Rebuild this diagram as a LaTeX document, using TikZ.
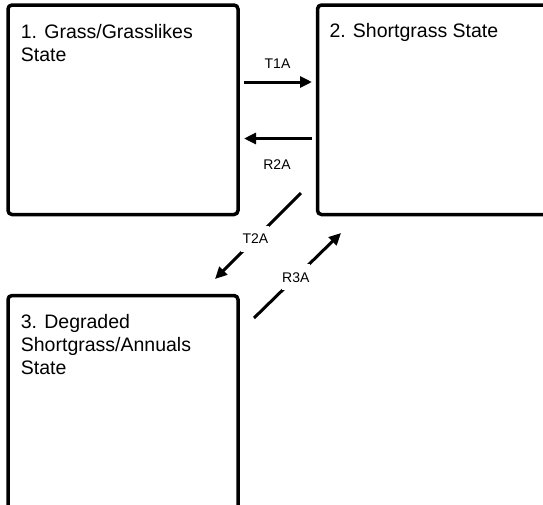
\documentclass[tikz,border=0pt]{standalone}
\usepackage{fontspec}
\setmainfont{Liberation Sans}
\usetikzlibrary{arrows.meta}
\tikzset{
  statebox/.style={draw=black, line width=3.5pt, rounded corners=4pt, fill=white, inner sep=0pt},
  statetext/.style={anchor=north west, inner sep=0pt, align=left, font=\fontsize{19.5}{23}\selectfont},
  arr/.style={line width=3pt, -{Triangle[length=12pt,width=11pt]}},
  lab/.style={font=\fontsize{14}{16}\selectfont, inner sep=0pt},
  gaplab/.style={font=\fontsize{14}{16}\selectfont, fill=white, inner sep=0pt, minimum width=28pt, minimum height=26pt}
}
\begin{document}
\begin{tikzpicture}[x=1pt,y=-1pt]
\useasboundingbox (0,0) rectangle (543,504);
\clip (0,0) rectangle (543,504);
\fill[white] (0,0) rectangle (543,504);
% boxes
\node[statebox, minimum width=230pt, minimum height=209.5pt] (b1) at (123,109.75) {};
\node[statebox, minimum width=250pt, minimum height=209.5pt] (b2) at (442.5,109.75) {};
\node[statebox, minimum width=230pt, minimum height=240pt] (b3) at (123,415.5) {};
% texts
\node[statetext] (t1) at (20.7,24.3) {1. Grass/Grasslikes\\State};
\node[statetext] (t2) at (329.3,23.3) {2. Shortgrass State};
\node[statetext] (t3) at (20.7,314.5) {3. Degraded\\Shortgrass/Annuals\\State};
% arrow endpoints
\coordinate (a1s) at (244,82);
\coordinate (a1e) at (312,82);
\coordinate (a2s) at (312,138.5);
\coordinate (a2e) at (244,138.5);
\coordinate (a3s) at (301,193);
\coordinate (a3e) at (215,279);
\coordinate (a4s) at (254,318);
\coordinate (a4e) at (341,233);
% connectors
\draw[arr] (a1s) -- (a1e);
\node[lab] (l1) at (277.5,64) {T1A};
\draw[arr] (a2s) -- (a2e);
\node[lab] (l2) at (277,165) {R2A};
\draw[arr] (a3s) -- node[gaplab, pos=0.53] (l3) {T2A} (a3e);
\draw[arr] (a4s) -- node[gaplab, pos=0.48] (l4) {R3A} (a4e);
\end{tikzpicture}
\end{document}
